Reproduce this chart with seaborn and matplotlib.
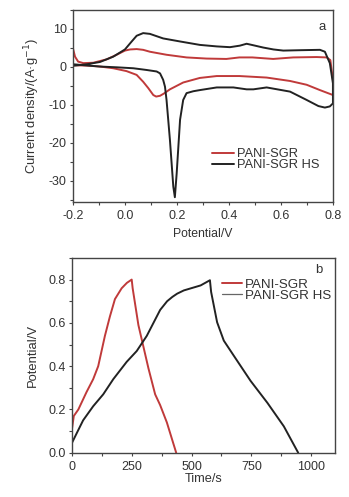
"""
CV curves (a) and galvanostatic charge/discharge curves (b) for PANI-SGR vs PANI-SGR HS
"""
import pandas as pd
import seaborn as sns
import matplotlib.pyplot as plt
from matplotlib.ticker import MultipleLocator
from matplotlib.lines import Line2D

# --- panel a: cyclic voltammetry, anodic sweep then cathodic sweep (V, A/g) ---
cv_sgr_v = [-0.2, -0.192, -0.18, -0.16, -0.122, -0.07, -0.032, 0.0, 0.02, 0.045, 0.07, 0.096, 0.16, 0.237,
            0.314, 0.39, 0.44, 0.49, 0.57, 0.647, 0.737, 0.776, 0.79, 0.8,
            0.8, 0.75, 0.699, 0.635, 0.545, 0.44, 0.353, 0.288, 0.224, 0.173, 0.15, 0.135, 0.12, 0.109,
            0.09, 0.07, 0.045, 0.006, -0.045, -0.096, -0.147, -0.2]
cv_sgr_i = [4.9, 2.7, 1.4, 1.0, 1.1, 2.0, 3.2, 4.3, 4.6, 4.7, 4.5, 4.0, 3.2, 2.5,
            2.2, 2.1, 2.5, 2.5, 2.1, 2.5, 2.6, 2.5, 1.8, -3.4,
            -7.4, -6.1, -4.7, -3.7, -2.8, -2.4, -2.4, -2.9, -4.1, -5.9, -7.0, -7.6, -7.8, -7.4,
            -5.6, -3.9, -2.1, -1.1, -0.35, 0.1, 0.35, 0.45]

cv_hs_v = [-0.2, -0.147, -0.096, -0.045, 0.0, 0.026, 0.045, 0.07, 0.096, 0.147, 0.212, 0.288,
           0.353, 0.404, 0.442, 0.468, 0.494, 0.532, 0.571, 0.609, 0.673, 0.75, 0.769, 0.788, 0.8,
           0.8, 0.788, 0.769, 0.744, 0.699, 0.635, 0.545, 0.494, 0.468, 0.417, 0.353, 0.288,
           0.263, 0.237, 0.224, 0.212, 0.199, 0.192, 0.186, 0.173, 0.16, 0.154, 0.147, 0.135,
           0.122, 0.083, 0.032, -0.032, -0.096, -0.2]
cv_hs_i = [0.3, 0.7, 1.3, 2.7, 4.6, 6.7, 8.2, 8.9, 8.7, 7.5, 6.7, 5.8,
           5.4, 5.2, 5.6, 6.1, 5.7, 5.1, 4.6, 4.3, 4.4, 4.5, 4.0, 1.0, -4.3,
           -9.6, -10.4, -10.7, -10.3, -8.7, -6.5, -5.4, -5.9, -5.9, -5.4, -5.4, -6.1,
           -6.4, -6.9, -8.7, -13.9, -28.0, -34.3, -31.5, -19.2, -8.7, -5.2, -3.4, -1.7,
           -1.2, -0.8, -0.35, -0.1, 0.1, 0.7]

# --- panel b: charge/discharge (s, V) ---
gcd_sgr_t = [0, 8, 27, 61, 89, 110, 138, 159, 180, 208, 230, 250,
             254, 278, 299, 320, 348, 369, 397, 436]
gcd_sgr_v = [0.107, 0.17, 0.2, 0.28, 0.34, 0.40, 0.54, 0.63, 0.71, 0.76, 0.785, 0.8,
             0.76, 0.59, 0.49, 0.39, 0.27, 0.22, 0.14, 0.0]

gcd_hs_t = [0, 20, 47, 89, 131, 173, 229, 271, 313, 341, 369, 398, 420, 440, 468, 538, 577,
            582, 607, 635, 677, 747, 817, 886, 946]
gcd_hs_v = [0.045, 0.09, 0.15, 0.215, 0.27, 0.34, 0.42, 0.47, 0.54, 0.60, 0.66, 0.70, 0.72, 0.735, 0.75, 0.773, 0.797,
            0.743, 0.603, 0.518, 0.448, 0.332, 0.231, 0.122, 0.0]

labels = ['PANI-SGR', 'PANI-SGR HS']
colors = {'PANI-SGR': '#c03a3a', 'PANI-SGR HS': '#222222'}

cv_df = pd.concat([
    pd.DataFrame({'Potential': cv_sgr_v, 'Current': cv_sgr_i, 'sample': labels[0]}),
    pd.DataFrame({'Potential': cv_hs_v, 'Current': cv_hs_i, 'sample': labels[1]}),
])
gcd_df = pd.concat([
    pd.DataFrame({'Time': gcd_sgr_t, 'Potential': gcd_sgr_v, 'sample': labels[0]}),
    pd.DataFrame({'Time': gcd_hs_t, 'Potential': gcd_hs_v, 'sample': labels[1]}),
])

sns.set_style('white')
plt.rcParams['font.family'] = ['Liberation Sans', 'DejaVu Sans']
plt.rcParams['axes.unicode_minus'] = False
plt.rcParams['text.color'] = '#333333'
plt.rcParams['axes.labelcolor'] = '#333333'
plt.rcParams['xtick.color'] = '#333333'
plt.rcParams['ytick.color'] = '#333333'

fig = plt.figure(figsize=(3.49, 4.97), dpi=100)
ax_a = fig.add_axes([0.209, 0.594, 0.745, 0.386])
ax_b = fig.add_axes([0.206, 0.089, 0.754, 0.392])

sns.lineplot(data=cv_df, x='Potential', y='Current', hue='sample', palette=colors,
             sort=False, estimator=None, linewidth=1.4, ax=ax_a)
sns.lineplot(data=gcd_df, x='Time', y='Potential', hue='sample', palette=colors,
             sort=False, estimator=None, linewidth=1.4, ax=ax_b)

#axis limits and ticks
ax_a.set_xlim(-0.2, 0.8)
ax_a.set_ylim(-35.5, 15)
ax_a.xaxis.set_major_locator(MultipleLocator(0.2))
ax_a.xaxis.set_minor_locator(MultipleLocator(0.1))
ax_a.yaxis.set_major_locator(MultipleLocator(10))
ax_a.yaxis.set_minor_locator(MultipleLocator(5))
ax_a.set_xlabel('Potential/V', fontsize=8.8, labelpad=4)
ax_a.set_ylabel('Current density/(A·g$^{-1}$)', fontsize=9.4, labelpad=5)

ax_b.set_xlim(0, 1100)
ax_b.set_ylim(0, 0.9)
ax_b.xaxis.set_major_locator(MultipleLocator(250))
ax_b.xaxis.set_minor_locator(MultipleLocator(125))
ax_b.yaxis.set_major_locator(MultipleLocator(0.2))
ax_b.yaxis.set_minor_locator(MultipleLocator(0.1))
ax_b.set_xlabel('Time/s', fontsize=9.2, labelpad=0)
ax_b.set_ylabel('Potential/V', fontsize=9.4, labelpad=7)
ax_b.yaxis.set_major_formatter(plt.FuncFormatter(lambda v, p: f'{v:.1f}'))

for ax in (ax_a, ax_b):
    for side in ax.spines:
        ax.spines[side].set_color('#444444')
        ax.spines[side].set_linewidth(1.0)
    ax.tick_params(which='both', direction='out', bottom=True, left=True, top=False, right=False,
                   labelsize=9, width=0.8, color='#444444')
    ax.tick_params(which='major', length=2.5)
    ax.tick_params(which='minor', length=2.0)
    ax.tick_params(axis='x', pad=3.5)
    ax.tick_params(axis='y', pad=2)

#panel letters
ax_a.text(0.958, 0.91, 'a', transform=ax_a.transAxes, ha='center', va='center', fontsize=9.5)
ax_b.text(0.939, 0.938, 'b', transform=ax_b.transAxes, ha='center', va='center', fontsize=9.5)

#legends
handles = [Line2D([], [], color=colors[l], linewidth=1.4) for l in labels]
ax_a.legend(handles, labels, loc='center left', bbox_to_anchor=(0.535, 0.219), frameon=False,
            fontsize=9.3, handlelength=1.7, handletextpad=0.25, labelspacing=-0.05, borderpad=0,
            borderaxespad=0)
handles_b = [Line2D([], [], color=colors[labels[0]], linewidth=1.4),
             Line2D([], [], color='#666666', linewidth=0.9)]
ax_b.legend(handles_b, labels, loc='center left', bbox_to_anchor=(0.57, 0.836), frameon=False,
            fontsize=9.6, handlelength=1.5, handletextpad=0.25, labelspacing=-0.1, borderpad=0,
            borderaxespad=0)

plt.savefig('out.png', dpi=100)
